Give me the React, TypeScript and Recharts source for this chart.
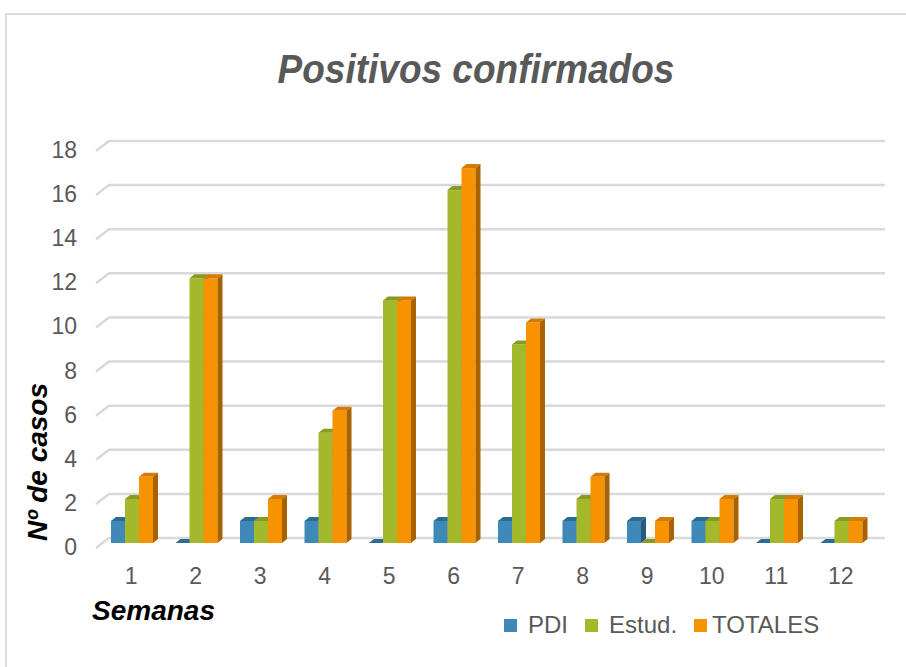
import { BarChart, Bar, XAxis, YAxis, CartesianGrid } from 'recharts';

const weeks = ['1', '2', '3', '4', '5', '6', '7', '8', '9', '10', '11', '12'];
const pdi = [1, 0, 1, 1, 0, 1, 1, 1, 1, 1, 0, 0];
const estud = [2, 12, 1, 5, 11, 16, 9, 2, 0, 1, 2, 1];
const totales = [3, 12, 2, 6, 11, 17, 10, 3, 1, 2, 2, 1];
const yTicks = [0, 2, 4, 6, 8, 10, 12, 14, 16, 18];

const seriesNames = ['PDI', 'Estud.', 'TOTALES'];
const seriesKeys = ['pdi', 'estud', 'totales'];
// front, top, side shades for the fake 3D bars
const seriesColors = [
  { front: '#3e89b8', top: '#2c6b92', side: '#255c7e' },
  { front: '#a3b82a', top: '#879a21', side: '#6f7f1a' },
  { front: '#f79200', top: '#d47b00', side: '#a86200' },
];

const data = weeks.map((w, i) => ({
  week: w,
  pdi: pdi[i],
  estud: estud[i],
  totales: totales[i],
}));

const DX = 5;
const DY = 4;
const FONT = 'Liberation Sans, Arial, sans-serif';

const makeBar3D = (c: { front: string; top: string; side: string }) => (props: any) => {
  const { x, y, width, height } = props;
  const h = Math.max(0, height || 0);
  return (
    <g>
      {h > 0 && <rect x={x} y={y} width={width} height={h} fill={c.front} />}
      <polygon
        points={`${x},${y} ${x + DX},${y - DY} ${x + width + DX},${y - DY} ${x + width},${y}`}
        fill={c.top}
      />
      {h > 0 && (
        <polygon
          points={`${x + width},${y} ${x + width + DX},${y - DY} ${x + width + DX},${y + h - DY} ${x + width},${y + h}`}
          fill={c.side}
        />
      )}
    </g>
  );
};

const GridLine = (p: any) => {
  const { x1, x2, y1 } = p;
  return (
    <polyline
      key={p.key}
      points={`${x1 - 4},${y1 + 5} ${x1 + 9},${y1 - 5} ${x2 + 11},${y1 - 5}`}
      fill="none"
      stroke="#d9d9d9"
      strokeWidth={2.5}
    />
  );
};

const YTick = ({ y, payload }: any) => (
  <text x={77} y={y + 12} textAnchor="end" fontSize={23} fill="#595959" fontFamily={FONT}>
    {payload.value}
  </text>
);

const XTick = ({ x, payload }: any) => (
  <text x={x - 1} y={584} textAnchor="middle" fontSize={23} fill="#595959" fontFamily={FONT}>
    {payload.value}
  </text>
);

export default function App() {
  return (
    <div style={{ position: 'absolute', left: 0, top: 0, width: 906, height: 667, overflow: 'hidden', background: '#fff', fontFamily: FONT }}>
      <div style={{ position: 'absolute', left: 5, top: 13, width: 950, height: 700, border: '2px solid #dcdcdc', boxSizing: 'border-box' }} />
      <div
        style={{
          position: 'absolute',
          left: 0,
          width: 952,
          top: 48,
          textAlign: 'center',
          fontSize: 37,
          fontWeight: 'bold',
          fontStyle: 'italic',
          color: '#595959',
          transform: 'scaleY(1.12)',
          lineHeight: '44px',
        }}
      >
        Positivos confirmados
      </div>
      <div style={{ position: 'absolute', left: 0, top: 0 }}>
        <BarChart
          width={906}
          height={667}
          data={data}
          margin={{ top: 146, right: 32, bottom: 84, left: 60 }}
          barGap={0}
          barSize={14}
        >
          <CartesianGrid vertical={false} horizontal={GridLine} />
          <XAxis dataKey="week" height={40} axisLine={false} tickLine={false} tick={XTick} interval={0} />
          <YAxis
            width={40}
            domain={[0, 18]}
            ticks={yTicks}
            axisLine={false}
            tickLine={false}
            tick={YTick}
            interval={0}
          />
          {seriesKeys.map((k, i) => (
            <Bar key={k} dataKey={k} name={seriesNames[i]} shape={makeBar3D(seriesColors[i])} isAnimationActive={false} />
          ))}
          <text
            x={0}
            y={0}
            transform="translate(47,462) rotate(-90)"
            textAnchor="middle"
            fontSize={28}
            fontWeight="bold"
            fontStyle="italic"
            fill="#000"
            fontFamily={FONT}
          >
            Nº de casos
          </text>
          <text x={92} y={620} fontSize={28} fontWeight="bold" fontStyle="italic" fill="#000" fontFamily={FONT}>
            Semanas
          </text>
        </BarChart>
      </div>
      <div style={{ position: 'absolute', left: 504, top: 611, display: 'flex', alignItems: 'center', fontSize: 24, color: '#595959' }}>
        {seriesNames.map((n, i) => (
          <div key={n} style={{ display: 'flex', alignItems: 'center', marginRight: 17 }}>
            <div style={{ width: 13, height: 13, background: seriesColors[i].front, marginRight: i === 2 ? 5 : 11 }} />
            <span>{n}</span>
          </div>
        ))}
      </div>
    </div>
  );
}
